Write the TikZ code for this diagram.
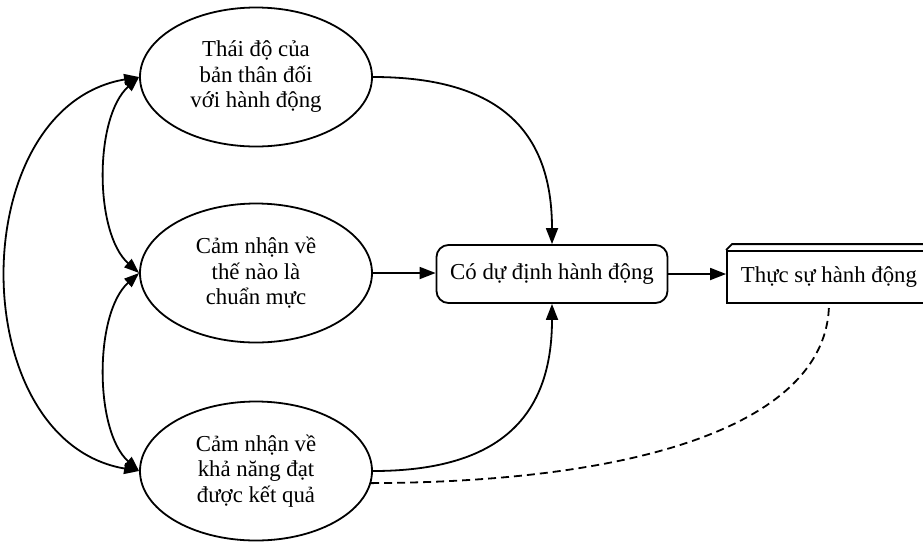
\documentclass[tikz,border=0pt]{standalone}
\usepackage{fontspec}
\setmainfont{Liberation Serif}
\usetikzlibrary{shapes.geometric,arrows.meta}
\begin{document}
\begin{tikzpicture}[x=1pt,y=-1pt,
  every node/.style={font=\fontsize{22.8}{25.5}\selectfont, align=center, line width=1.8pt},
  oval/.style={draw, ellipse, minimum width=232pt, minimum height=139pt, inner sep=0pt},
  intent/.style={draw, rectangle, rounded corners=12pt, minimum width=231pt, minimum height=58pt, inner sep=0pt},
  actbox/.style={draw, rectangle, minimum width=204pt, minimum height=52pt, inner sep=0pt},
  link/.style={line width=1.8pt, -{Triangle[length=16pt,width=12pt]}},
  both/.style={line width=1.8pt, {Triangle[length=15pt,width=11pt]}-{Triangle[length=15pt,width=11pt]}},
  hint/.style={line width=1.8pt, dash pattern=on 8pt off 5pt}]
\useasboundingbox[fill=white] (0,0) rectangle (923,542);
\node[oval] (e1) at (256,77) {Thái độ của\\bản thân đối\\với hành động};
\node[oval] (e2) at (256,273) {Cảm nhận về\\thế nào là\\chuẩn mực};
\node[oval] (e3) at (256,471) {Cảm nhận về\\khả năng đạt\\được kết quả};
\node[intent] (box) at (552,274) {Có dự định hành động};
\node[actbox] (act) at (829,277) {Thực sự hành động};
\draw[line width=1.8pt] (act.north west) -- ++(6,-6) -- ++(220,0);
\draw[link] (e2.east) -- (e2.east -| box.west);
\draw[link] (box.east) -- (box.east -| act.west);
\draw[link] (e1.east) .. controls +(130,0) and +(0,-110) .. (box.north);
\draw[link] (e3.east) .. controls +(130,0) and +(0,110) .. (box.south);
\draw[hint] (e3.-6) .. controls (650,482) and (828,420) .. (act.south);
\draw[both] (e1.west) .. controls +(-45,40) and +(-45,-40) .. (e2.west);
\draw[both] (e2.west) .. controls +(-45,40) and +(-45,-40) .. (e3.west);
\draw[both] (e1.west) .. controls +(-176,30) and +(-176,-30) .. (e3.west);
\end{tikzpicture}
\end{document}
